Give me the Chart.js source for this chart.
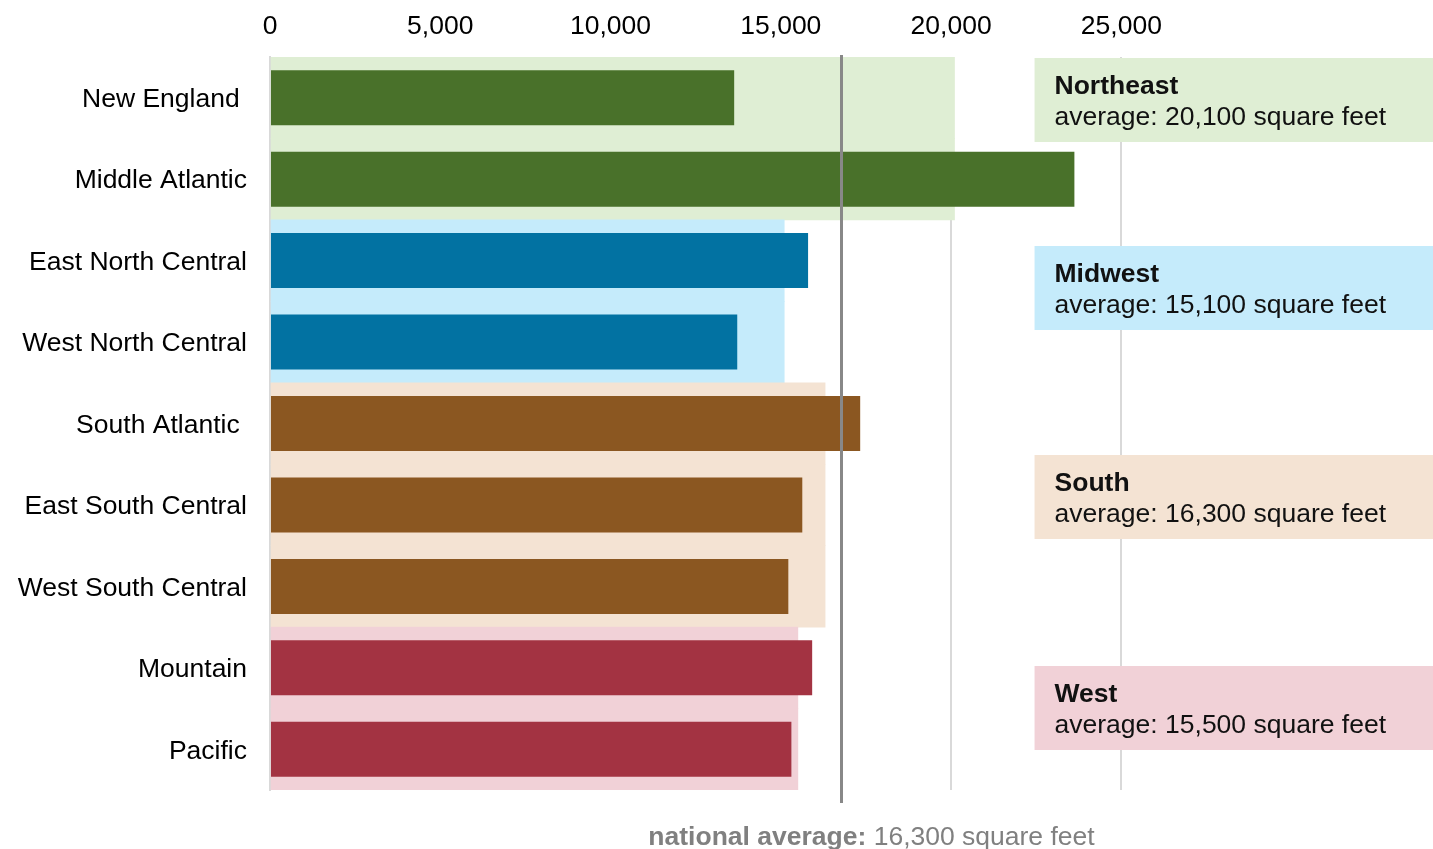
<!DOCTYPE html>
<html>
<head>
<meta charset="utf-8">
<script src="https://cdn.jsdelivr.net/npm/chart.js@4/dist/chart.umd.min.js"></script>
<style>
  html, body { margin: 0; padding: 0; background: #ffffff; }
  #wrap { width: 1433px; height: 849px; position: relative; }
</style>
</head>
<body>
<div id="wrap"><canvas id="c" width="1433" height="849"></canvas></div>
<script>
// ---- data ----
const categories = ["New England ", "Middle Atlantic", "East North Central", "West North Central",
  "South Atlantic ", "East South Central", "West South Central", "Mountain", "Pacific"];
const divisionValues = [13630, 23620, 15800, 13720, 17330, 15630, 15220, 15920, 15310];
const divisionRegion = [0, 0, 1, 1, 2, 2, 2, 3, 3];
const regionNames = ["Northeast", "Midwest", "South", "West"];
const regionAverages = [20100, 15100, 16300, 15500];
const regionAverageLabels = ["20,100", "15,100", "16,300", "15,500"];
const nationalAverageLabel = "16,300";
const nationalLineValue = 16780;
const tickValues = [0, 5000, 10000, 15000, 20000, 25000];
const tickLabels = ["0", "5,000", "10,000", "15,000", "20,000", "25,000"];

// ---- styles ----
const regionDark = ["#49712a", "#0272a2", "#8b5721", "#a33342"];
const regionLight = ["#dfeed4", "#c5ebfb", "#f4e3d3", "#f1d1d7"];
const boxCenterIndex = [0.03, 2.34, 4.9, 7.49];
const FONT = "'Liberation Sans', Arial, sans-serif";
const FS = 26.5;

const bandValues = divisionRegion.map(r => regionAverages[r]);

const overlayPlugin = {
  id: 'overlay',
  afterDatasetsDraw(chart) {
    const ctx = chart.ctx;
    const xs = chart.scales.x, ys = chart.scales.y;
    const area = chart.chartArea;
    ctx.save();
    // national average line
    const nx = Math.round(xs.getPixelForValue(nationalLineValue)) + 0.5;
    ctx.strokeStyle = '#888888';
    ctx.lineWidth = 3;
    ctx.beginPath();
    ctx.moveTo(nx, area.top - 2);
    ctx.lineTo(nx, area.bottom + 13);
    ctx.stroke();

    // national average label
    ctx.font = "bold " + FS + "px " + FONT;
    const boldTxt = "national average:";
    const normTxt = " " + nationalAverageLabel + " square feet";
    const wb = ctx.measureText(boldTxt).width;
    ctx.font = FS + "px " + FONT;
    const wn = ctx.measureText(normTxt).width;
    const cx = nx + 30;
    let sx = cx - (wb + wn) / 2;
    ctx.textBaseline = 'alphabetic';
    ctx.textAlign = 'left';
    ctx.fillStyle = '#808080';
    ctx.font = "bold " + FS + "px " + FONT;
    ctx.fillText(boldTxt, sx, area.bottom + 55);
    ctx.font = FS + "px " + FONT;
    ctx.fillText(normTxt, sx + wb, area.bottom + 55);

    // region boxes
    const bx = xs.getPixelForValue(22450);
    const bw = chart.width - bx;
    const step = ys.getPixelForValue(1) - ys.getPixelForValue(0);
    regionNames.forEach((name, i) => {
      const cy = ys.getPixelForValue(0) + boxCenterIndex[i] * step;
      const top = Math.round(cy - 42);
      ctx.fillStyle = regionLight[i];
      ctx.fillRect(bx, top, bw, 84);
      ctx.fillStyle = '#111111';
      ctx.font = "bold " + FS + "px " + FONT;
      ctx.fillText(name, bx + 20, top + 36);
      ctx.font = FS + "px " + FONT;
      ctx.fillText("average: " + regionAverageLabels[i] + " square feet", bx + 20, top + 67);
    });
    ctx.restore();
  }
};

new Chart(document.getElementById('c'), {
  type: 'bar',
  data: {
    labels: categories,
    datasets: [
      {
        data: divisionValues,
        backgroundColor: divisionRegion.map(r => regionDark[r]),
        barPercentage: 0.675,
        categoryPercentage: 1,
        grouped: false,
        order: 0
      },
      {
        data: bandValues,
        backgroundColor: divisionRegion.map(r => regionLight[r]),
        barPercentage: 1,
        categoryPercentage: 1,
        grouped: false,
        order: 1
      }
    ]
  },
  options: {
    indexAxis: 'y',
    responsive: false,
    animation: false,
    layout: { padding: { left: 0, right: 0, top: 0, bottom: 59 } },
    plugins: { legend: { display: false }, tooltip: { enabled: false } },
    scales: {
      x: {
        position: 'top',
        min: 0,
        max: 34150,
        afterBuildTicks: (s) => { s.ticks = tickValues.map(v => ({ value: v })); },
        ticks: {
          autoSkip: false,
          maxRotation: 0,
          padding: 14,
          color: '#000000',
          font: { family: FONT, size: FS },
          callback: (v, idx) => (idx < tickLabels.length ? tickLabels[idx] : '')
        },
        grid: {
          drawTicks: false,
          lineWidth: 2,
          color: (c) => (c.tick && c.tick.value > 0) ? '#d9d9d9' : 'rgba(0,0,0,0)'
        },
        border: { display: false },
        afterFit: (s) => { s.height = 57; s.paddingRight = 0; s.paddingLeft = 0; }
      },
      y: {
        ticks: {
          padding: 23,
          labelOffset: 2,
          color: '#000000',
          font: { family: FONT, size: FS }
        },
        grid: { display: false, drawTicks: false },
        border: { display: true, color: '#d9d9d9', width: 2 },
        afterFit: (s) => { s.width = 270; }
      }
    }
  },
  plugins: [overlayPlugin]
});
</script>
</body>
</html>
